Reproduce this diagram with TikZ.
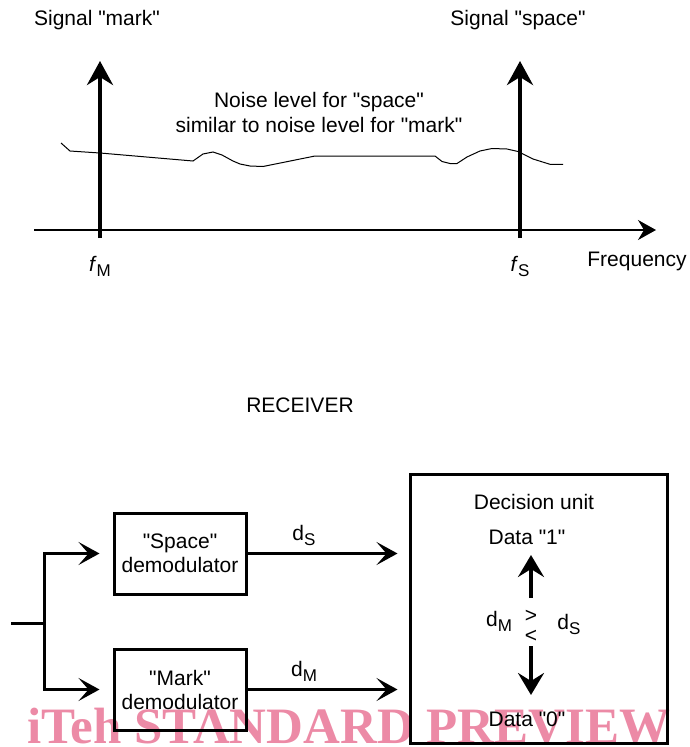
\documentclass[tikz,border=0pt]{standalone}
\usepackage{fontspec}
\setmainfont{Liberation Sans}[Ligatures=TeXOff]
\newfontfamily\wmfont{Liberation Serif}
\usetikzlibrary{arrows.meta}
\definecolor{wmpink}{RGB}{236,138,166}
\newcommand{\sbs}[1]{\raisebox{-5pt}{\fontsize{17}{17}\selectfont #1}}
\newcommand{\qq}[1]{"#1"}
\begin{document}
\begin{tikzpicture}[x=1pt,y=-1pt,
  txt/.style={inner sep=0pt, font=\fontsize{21}{25}\selectfont, align=center},
  block/.style={draw, line width=3pt, minimum width=132pt, minimum height=81pt, inner sep=0pt, font=\fontsize{21}{24}\selectfont, align=center},
  sigarrow/.style={line width=4pt, -{Stealth[length=24pt,width=26pt,inset=8pt]}},
  axisarrow/.style={line width=1.5pt, -{Stealth[length=18pt,width=20pt,inset=6pt]}},
  flow/.style={line width=3pt, -{Stealth[length=21pt,width=23pt,inset=10pt]}},
  decarrow/.style={line width=4pt, -{Stealth[length=22pt,width=26pt,inset=8pt]}},
  noise/.style={line width=1pt}]
\useasboundingbox (0,0) rectangle (689,747);
% watermark
\node[anchor=base west, inner sep=0pt, text=wmpink, font=\wmfont\bfseries\fontsize{51}{51}\selectfont] (wm) at (27,743) {iTeh STANDARD PREVIEW};
% ---------- spectrum ----------
\node[txt] (sigm) at (97,20) {Signal \qq{mark}};
\node[txt] (sigs) at (518,20) {Signal \qq{space}};
\node[txt] (noisetxt) at (319,112) {Noise level for \qq{space}\\similar to noise level for \qq{mark}};
\coordinate (axl) at (34,230);
\coordinate (axr) at (656,230);
\draw[axisarrow] (axl) -- (axr);
\coordinate (fmb) at (100,238);
\coordinate (fmt) at (100,61);
\coordinate (fsb) at (520,238);
\coordinate (fst) at (520,61);
\draw[noise] (61,143) -- (70,151) -- (100,153) -- (193,161) -- (203,154) -- (213,152) -- (222,155) -- (233,161) -- (240,164) -- (250,166) -- (263,166.5) -- (315,156) -- (435,156) -- (442,161.5) -- (450,163.5) -- (457,163.5) -- (467,157) -- (480,151) -- (492,148.5) -- (507,149) -- (518,151.5) -- (533,159) -- (550,164.3) -- (563,164.3);
\draw[sigarrow] (fmb) -- (fmt);
\draw[sigarrow] (fsb) -- (fst);
\node[txt] (fm) at (100,266) {\textit{f}\sbs{M}};
\node[txt] (fs) at (520,266) {\textit{f}\sbs{S}};
\node[txt] (freq) at (637,261) {Frequency};
% ---------- receiver ----------
\node[txt] (rcv) at (300,405) {RECEIVER};
\node[draw, line width=3pt, minimum width=257pt, minimum height=269pt, inner sep=0pt] (dec) at (538.5,608.5) {};
\node[block] (sp) at (180,553.5) {\qq{Space}\\demodulator};
\node[block] (mk) at (180,689.5) {\qq{Mark}\\demodulator};
\coordinate (in) at (11,623);
\coordinate (split) at (44,623);
\draw[line width=3pt] (in) -- (split);
\draw[flow] (split) |- ([xshift=-13pt]sp.west);
\draw[flow] (split) |- ([xshift=-13pt]mk.west);
\draw[flow] (sp.east) -- ([xshift=-11pt]dec.west |- sp.east);
\draw[flow] (mk.east) -- ([xshift=-11pt]dec.west |- mk.east);
\node[txt] (ds) at (304,535) {d\sbs{S}};
\node[txt] (dm) at (304,671) {d\sbs{M}};
% decision unit content
\node[txt] (du) at (534,502) {Decision unit};
\node[txt] (d1) at (527,537) {Data \qq{1}};
\node[txt] (d0) at (527,719) {Data \qq{0}};
\node[txt] (cdm) at (499,621) {d\sbs{M}};
\node[txt] (gt) at (531,616) {>};
\node[txt] (lt) at (531,636) {<};
\node[txt] (cds) at (569,624) {d\sbs{S}};
\coordinate (upb) at (531,598);
\coordinate (upt) at (531,555);
\coordinate (dnt) at (531,646);
\coordinate (dnb) at (531,695);
\draw[decarrow] (upb) -- (upt);
\draw[decarrow] (dnt) -- (dnb);
\end{tikzpicture}
\end{document}
